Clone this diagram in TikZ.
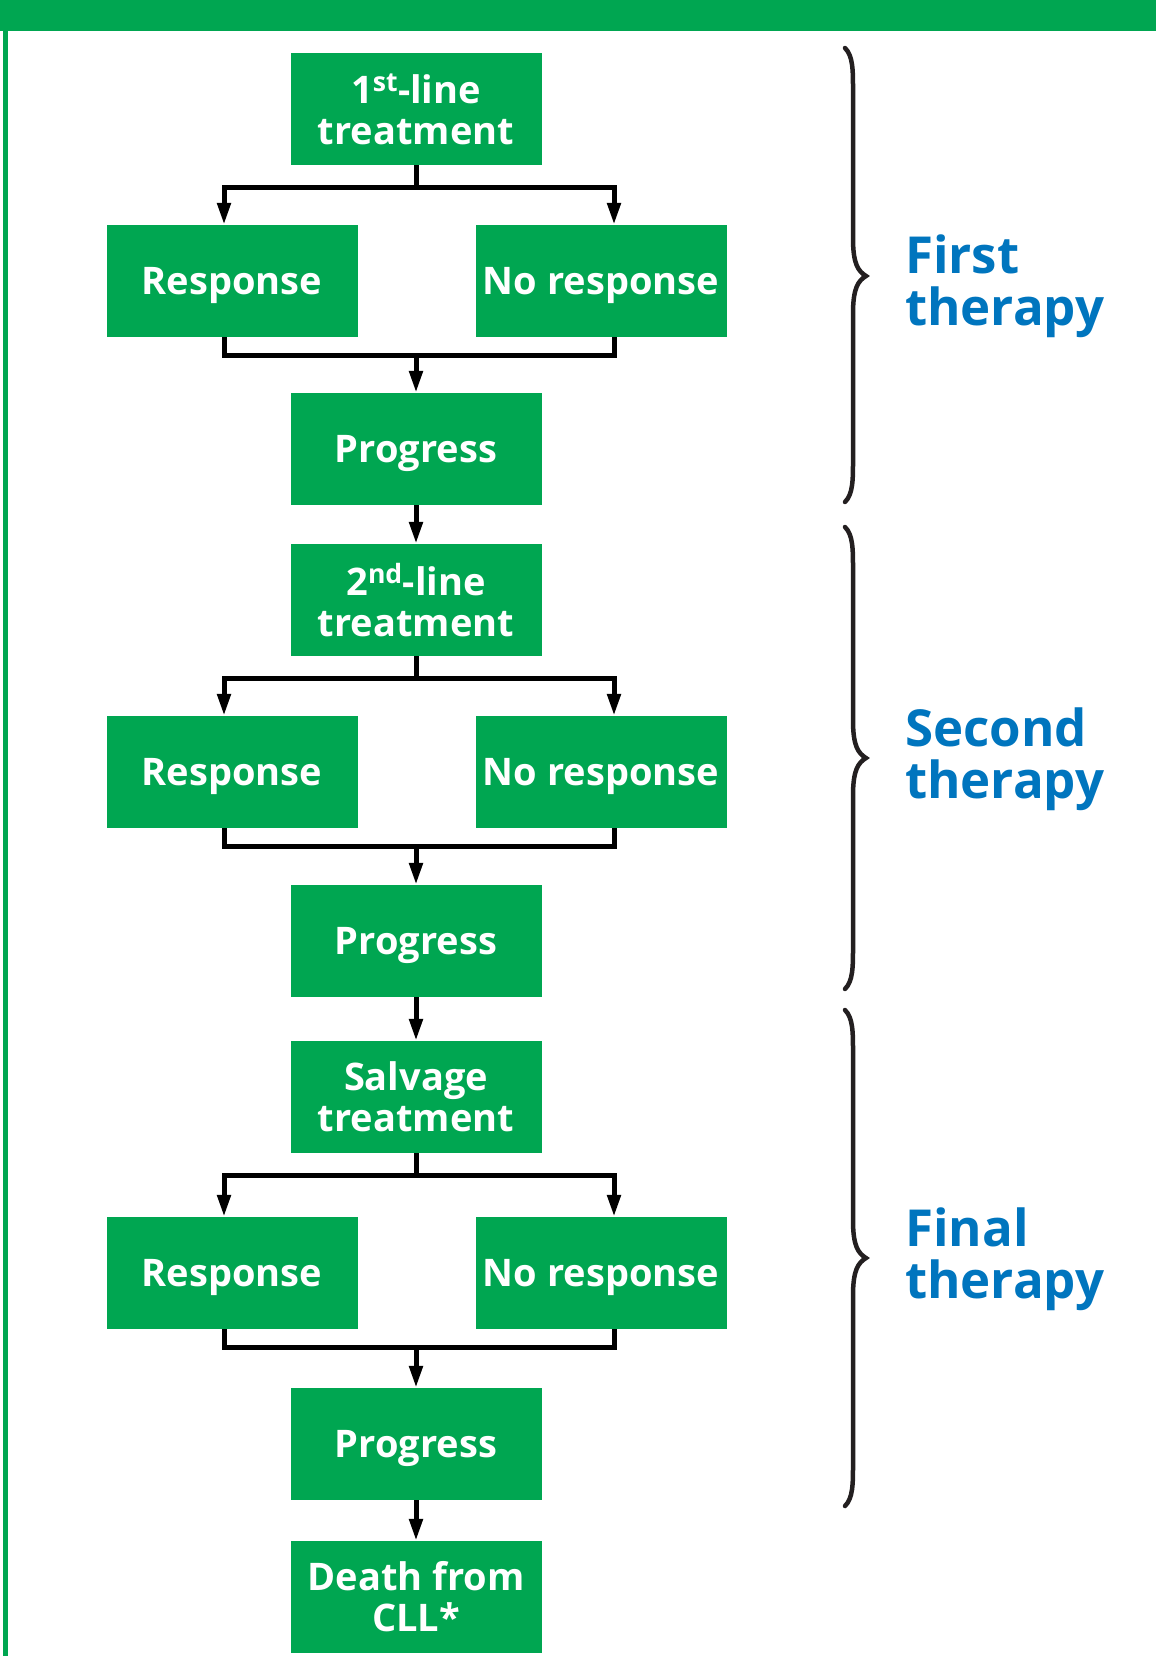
\documentclass[tikz,border=0pt]{standalone}
\usepackage{fontspec}
\setmainfont{Open Sans}
\usetikzlibrary{arrows.meta,calc}
\definecolor{cllgreen}{RGB}{0,166,81}
\definecolor{cllblue}{RGB}{0,117,190}
\definecolor{bracegray}{RGB}{35,31,32}
\begin{document}
\begin{tikzpicture}[x=1pt,y=-1pt,
  box/.style={fill=cllgreen, text=white, font=\fontsize{38}{41}\selectfont\bfseries,
    minimum width=251pt, minimum height=112pt, inner sep=0pt, align=center},
  onebox/.style={box, text depth=1pt},
  conn/.style={line width=5pt, black},
  arr/.style={conn, -{Triangle[length=22pt,width=13pt]}},
  lab/.style={text=cllblue, font=\fontsize{51}{52}\selectfont\bfseries,
    align=left, inner sep=0pt, anchor=base west},
  bracestyle/.style={line width=4.5pt, bracegray, line cap=round}]
\useasboundingbox (0,0) rectangle (1156,1656);
% frame
\fill[cllgreen] (0,0) rectangle (1156,31);
\fill[cllgreen] (3,31) rectangle (8,1656);
% boxes
\node[box] (b1) at (416,109) {1\raisebox{3pt}{\textsuperscript{st}}-line\\treatment};
\node[onebox] (r1) at (232,281) {Response};
\node[onebox] (n1) at (601,281) {No response};
\node[onebox] (p1) at (416,449) {Progress};
\node[box] (b2) at (416,600) {2\raisebox{3pt}{\textsuperscript{nd}}-line\\treatment};
\node[onebox] (r2) at (232,772) {Response};
\node[onebox] (n2) at (601,772) {No response};
\node[onebox] (p2) at (416,941) {Progress};
\node[box] (b3) at (416,1097) {Salvage\\treatment};
\node[onebox] (r3) at (232,1273) {Response};
\node[onebox] (n3) at (601,1273) {No response};
\node[onebox] (p3) at (416,1444) {Progress};
\node[box] (d) at (416,1597) {Death from\\CLL*};
% connectors
\foreach \t/\r/\n/\p in {b1/r1/n1/p1, b2/r2/n2/p2, b3/r3/n3/p3}{
  \coordinate (s\t) at ($(\t.south)+(0,22)$);
  \draw[arr] (\t.south) -- (s\t) -| ([xshift=-8pt]\r.north);
  \draw[arr] (s\t) -| ([xshift=13pt]\n.north);
  \coordinate (m\t) at ($(\r.south)+(0,18)$);
  \draw[conn] ([xshift=-8pt]\r.south) |- ([xshift=13pt]\n.south |- m\t) -- ([xshift=13pt]\n.south);
  \draw[arr] (m\t -| \p.north) -- (\p.north);
}
\draw[arr] (p1.south) -- (b2.north);
\draw[arr] (p2.south) -- (b3.north);
\draw[arr] (p3.south) -- (d.north);
% braces
\foreach \top/\tip/\bot in {48/276/502, 527/758/989, 1010/1258/1506}{
  \draw[bracestyle] (845,\top) .. controls (853,\top+8) and (853,\top+22) .. (853,\top+42)
    -- (853,\tip-38) .. controls (853,\tip-12) and (858,\tip-5) .. (866,\tip)
    .. controls (858,\tip+5) and (853,\tip+12) .. (853,\tip+38)
    -- (853,\bot-42) .. controls (853,\bot-22) and (853,\bot-8) .. (845,\bot);
}
% labels
\node[lab] (l1) at (905,325) {First\\therapy};
\node[lab] (l2) at (905,798) {Second\\therapy};
\node[lab] (l3) at (905,1298) {Final\\therapy};
\end{tikzpicture}
\end{document}
